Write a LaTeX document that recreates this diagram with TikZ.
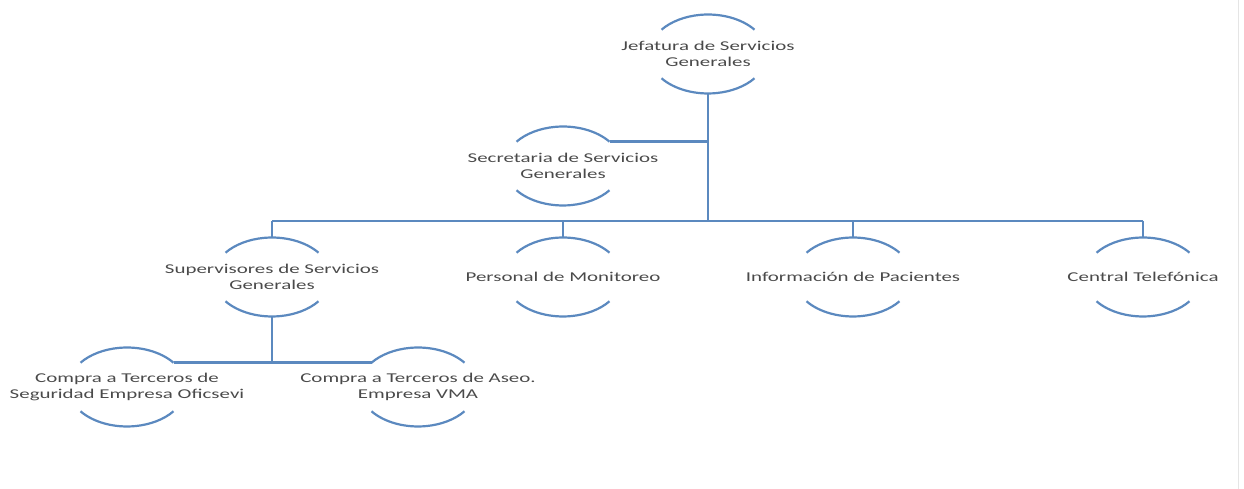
\documentclass[tikz,border=0pt]{standalone}
\usepackage{fontspec}
\setmainfont{Carlito}[FakeStretch=1.55]
\definecolor{linec}{HTML}{5B89BF}
\definecolor{txtc}{HTML}{4A4A4A}
\tikzset{
  lbl/.style={align=center,text=txtc,font=\fontsize{13.5}{15.5}\selectfont,inner sep=0pt},
  arcst/.style={draw=linec,line width=2.2pt},
  conn/.style={draw=linec,line width=2.8pt}
}
\newcommand{\orgnode}[3]{%
  \node[lbl] (#1) at (#2) {#3};
  \draw[arcst] ([shift={(46.5,24.3)}]#1.center) arc[start angle=38,end angle=142,x radius=59,y radius=39.5];
  \draw[arcst] ([shift={(-46.5,-24.3)}]#1.center) arc[start angle=218,end angle=322,x radius=59,y radius=39.5];
  \coordinate (#1-t) at ([yshift=39.5]#1.center);
  \coordinate (#1-b) at ([yshift=-39.5]#1.center);
  \coordinate (#1-tr) at ([shift={(46.5,24.3)}]#1.center);
  \coordinate (#1-tl) at ([shift={(-46.5,24.3)}]#1.center);
}
\begin{document}
\begin{tikzpicture}[x=1pt,y=1pt]
\useasboundingbox (0,0) rectangle (1244,489);
\draw[gray!20,line width=1pt] (1238,0) -- (1238,489);
\orgnode{j}{708,435}{Jefatura de Servicios\\Generales}
\orgnode{s}{563,323}{Secretaria de Servicios\\Generales}
\orgnode{sup}{272,212}{Supervisores de Servicios\\Generales}
\orgnode{per}{563,212}{Personal de Monitoreo}
\orgnode{inf}{853,212}{Información de Pacientes}
\orgnode{cen}{1143,212}{Central Telefónica}
\orgnode{ca}{127,102}{Compra a Terceros de\\Seguridad Empresa Oficsevi}
\orgnode{cb}{418,102}{Compra a Terceros de Aseo.\\Empresa VMA}
\coordinate (bus) at (708,268);
\coordinate (sbus) at (272,126.3);
% trunk
\draw[conn] (j-b) -- (bus);
\draw[conn] (s-tr) -- (s-tr -| j-b);
\draw[conn] (sup-t |- bus) -- (cen-t |- bus);
\foreach \n in {sup,per,inf,cen} \draw[conn] (\n-t |- bus) -- (\n-t);
\draw[conn] (sup-b) -- (sbus);
\draw[conn] (ca-tr) -- (cb-tl);
\end{tikzpicture}
\end{document}
